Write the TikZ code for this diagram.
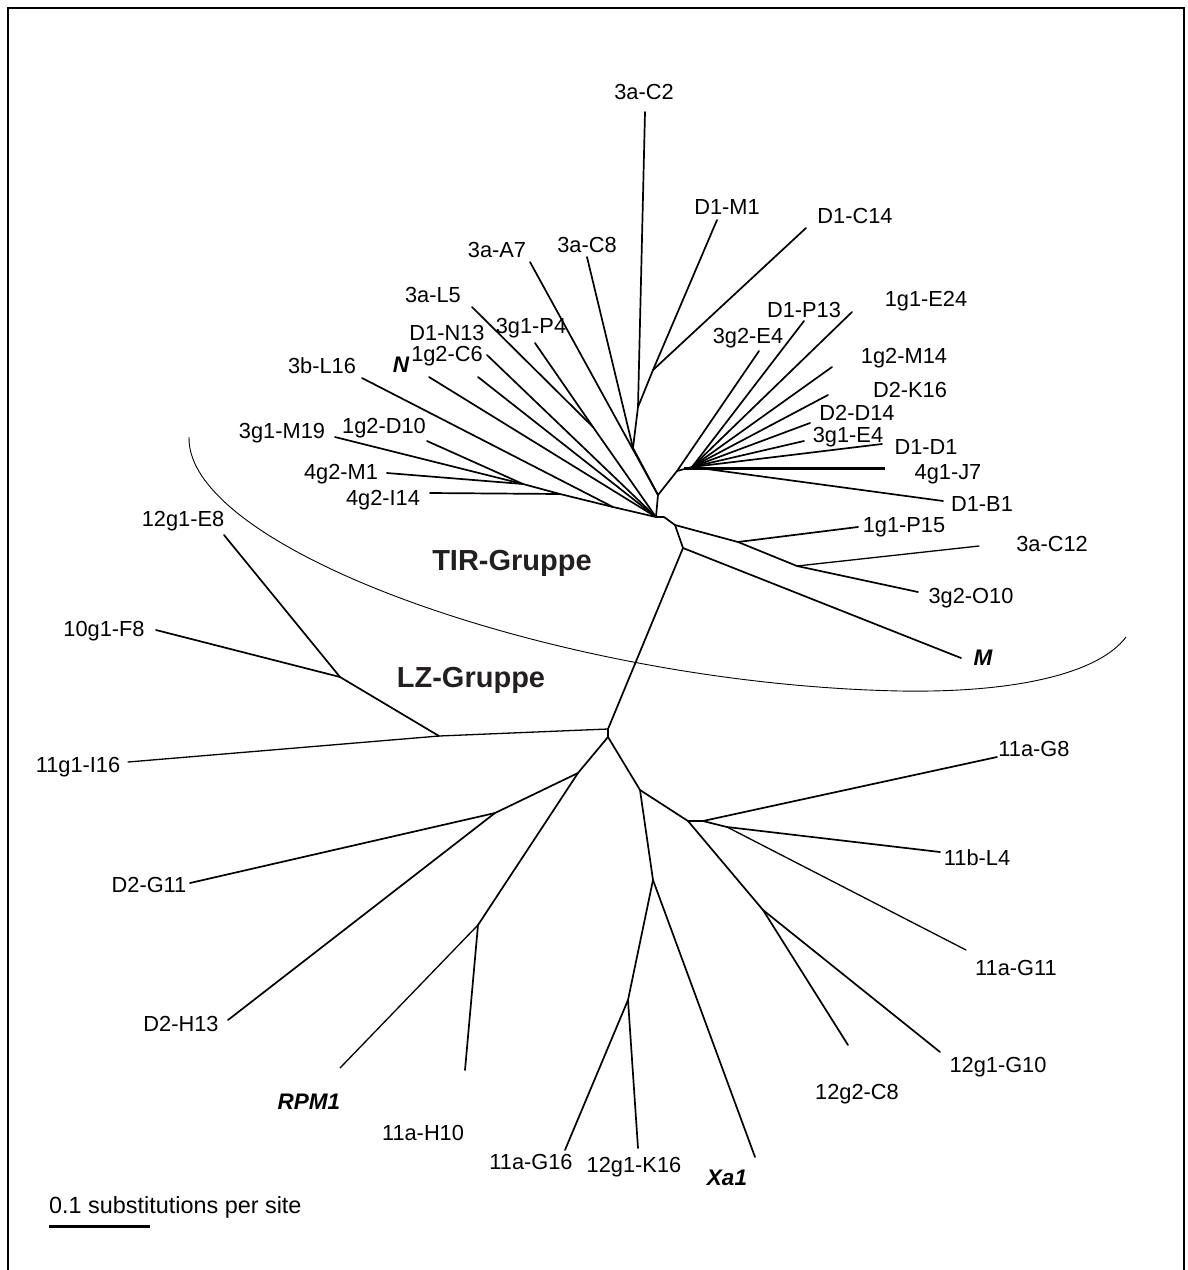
\documentclass[tikz,border=0pt]{standalone}
\usepackage{fontspec}
\setmainfont{Liberation Sans}
\definecolor{grpcol}{HTML}{231F20}
\begin{document}
\begin{tikzpicture}[x=1pt,y=-1pt,
  br/.style={line width=1.7pt, line cap=round},
  thin br/.style={line width=1.3pt, line cap=round},
  lab/.style={font=\fontsize{21.8}{24}\selectfont, inner sep=0pt, anchor=center},
  blab/.style={font=\fontsize{22.5}{24}\selectfont\bfseries\itshape, inner sep=0pt, anchor=center},
  grp/.style={font=\fontsize{29}{32}\selectfont\bfseries, text=grpcol, inner sep=0pt, anchor=center}]
\useasboundingbox (0,0) rectangle (1187,1270);
% frame
\draw[line width=2pt] (8,1275) -- (8,8) -- (1184,8) -- (1184,1275);
% internal nodes
\coordinate (nC2j) at (638,407);
\coordinate (nM1j) at (653,370);
\coordinate (nC8j) at (633,448);
\coordinate (nN1) at (658,495);
\coordinate (nR) at (677,471);
\coordinate (nH) at (692,467);
\coordinate (nC) at (656,517);
\coordinate (nCp) at (664,517);
\coordinate (nP4j) at (593,427);
\coordinate (nLL) at (523,484);
\coordinate (nI14) at (560,494);
\coordinate (nL16) at (613,507);
\coordinate (nC2) at (675,525);
\coordinate (nP15) at (738,542);
\coordinate (nC12) at (797,566);
\coordinate (nMj) at (683,548);
\coordinate (nLZ) at (608,729);
\coordinate (nLZp) at (608,737);
\coordinate (nI16) at (439,736);
\coordinate (nE8) at (340,677);
\coordinate (nBR1) at (640,790);
\coordinate (nBR2) at (688,821);
\coordinate (nBR2p) at (703,821);
\coordinate (nL4) at (727,827);
\coordinate (nG10) at (763,910);
\coordinate (nXa) at (653,880);
\coordinate (nK16) at (628,1000);
\coordinate (nBL1) at (578,773);
\coordinate (nG11) at (495,813);
\coordinate (nH10) at (478,925);
% tips
\coordinate (tC2) at (645,112);
\coordinate (tM1) at (717,220);
\coordinate (tC14) at (806,228);
\coordinate (tC8) at (587,257);
\coordinate (tA7) at (530,262);
\coordinate (tL5) at (472,307);
\coordinate (tP4) at (535,343);
\coordinate (tC6) at (487,355);
\coordinate (tN13) at (478,377);
\coordinate (tN) at (429,377);
\coordinate (tL16) at (362,378);
\coordinate (tM19) at (335,437);
\coordinate (tD10) at (427,441);
\coordinate (tGM1) at (387,473);
\coordinate (tI14) at (430,493);
\coordinate (tE4b) at (759,351);
\coordinate (tP13) at (804,321);
\coordinate (tE24) at (852,312);
\coordinate (tM14) at (832,367);
\coordinate (tK16b) at (828,395);
\coordinate (tD14) at (810,423);
\coordinate (tE4) at (804,441);
\coordinate (tD1) at (882,444);
\coordinate (tJ7a) at (684,468);
\coordinate (tJ7) at (885,468);
\coordinate (tB1) at (943,501);
\coordinate (tP15) at (858,527);
\coordinate (tC12) at (979,546);
\coordinate (tO10) at (918,592);
\coordinate (tM) at (961,658);
\coordinate (tE8) at (224,535);
\coordinate (tF8) at (156,630);
\coordinate (tI16) at (128,762);
\coordinate (tG8) at (997,757);
\coordinate (tL4) at (940,852);
\coordinate (tG11b) at (966,950);
\coordinate (tG10) at (940,1052);
\coordinate (tC8b) at (848,1045);
\coordinate (tXa) at (755,1157);
\coordinate (tK16) at (638,1148);
\coordinate (tG16) at (565,1150);
\coordinate (tH10) at (465,1070);
\coordinate (tRPM) at (340,1068);
\coordinate (tH13) at (228,1020);
\coordinate (tG11) at (190,883);
% branches: TIR
\draw[br] (tC2) -- (nC2j);
\draw[br] (tM1) -- (nM1j);
\draw[br] (tC14) -- (nM1j);
\draw[br] (nM1j) -- (nC2j) -- (nC8j);
\draw[br] (tC8) -- (nC8j) -- (nN1);
\draw[br] (tA7) -- (nN1);
\draw[br] (nN1) -- (nR);
\draw[br] (nN1) -- (nC);
\draw[br] (tE4b) -- (nR);
\draw[br] (nR) -- (nH);
\foreach \t in {tP13,tE24,tM14,tK16b,tD14,tE4,tD1,tB1} \draw[br] (\t) -- (nH);
\draw[line width=3pt] (tJ7a) -- (tJ7);
\draw[br] (tL5) -- (nP4j);
\draw[br] (tP4) -- (nP4j);
\draw[br] (nP4j) -- (nC);
\draw[br] (tC6) -- (nC);
\draw[br] (tN13) -- (nC);
\draw[br] (tN) -- (nC);
\draw[br] (tL16) -- (nL16);
\draw[br] (tM19) -- (nLL);
\draw[br] (tD10) -- (nLL);
\draw[br] (tGM1) -- (nLL);
\draw[br] (tI14) -- (nI14);
\draw[br] (nLL) -- (nI14) -- (nL16) -- (nC);
\draw[line width=2.5pt] (nC) -- (nCp);
\draw[br] (nCp) -- (nC2);
\draw[br] (nC2) -- (nP15) -- (nC12);
\draw[br] (nP15) -- (tP15);
\draw[thin br] (nC12) -- (tC12);
\draw[br] (nC12) -- (tO10);
\draw[br] (nC2) -- (nMj) -- (tM);
\draw[br] (nMj) -- (nLZ);
% LZ
\draw[line width=2.5pt] (nLZ) -- (nLZp);
\draw[thin br] (nLZ) -- (nI16) -- (tI16);
\draw[br] (nI16) -- (nE8) -- (tE8);
\draw[br] (nE8) -- (tF8);
\draw[br] (nLZp) -- (nBR1) -- (nBR2);
\draw[br] (nBR2) -- (nBR2p) -- (tG8);
\draw[br] (nBR2p) -- (nL4) -- (tL4);
\draw[thin br] (nL4) -- (tG11b);
\draw[br] (nBR2) -- (nG10) -- (tG10);
\draw[br] (nG10) -- (tC8b);
\draw[br] (nBR1) -- (nXa) -- (tXa);
\draw[br] (nXa) -- (nK16) -- (tK16);
\draw[br] (nK16) -- (tG16);
\draw[br] (nLZp) -- (nBL1) -- (nG11) -- (tG11);
\draw[br] (nG11) -- (tH13);
\draw[br] (nBL1) -- (nH10) -- (tH10);
\draw[thin br] (nH10) -- (tRPM);
% group curve
\draw[line width=0.9pt] (189,437) .. controls (186,550) and (560,684) .. (900,691) .. controls (1020,693) and (1100,672) .. (1126,637);
% labels
\node[lab] (l1) at (644,92) {3a-C2};
\node[lab] (l2) at (727,207) {D1-M1};
\node[lab] (l3) at (855,216) {D1-C14};
\node[lab] (l4) at (497,250) {3a-A7};
\node[lab] (l5) at (587,245) {3a-C8};
\node[lab] (l6) at (433,295) {3a-L5};
\node[lab] (l7) at (447,333) {D1-N13};
\node[lab] (l8) at (531,328) {3g1-P4};
\node[lab] (l9) at (447,356) {1g2-C6};
\node[blab] (l10) at (401,365) {N};
\node[lab] (l11) at (322,366) {3b-L16};
\node[lab] (l12) at (282,433) {3g1-M19};
\node[lab] (l13) at (384,428) {1g2-D10};
\node[lab] (l14) at (341,474) {4g2-M1};
\node[lab] (l15) at (383,500) {4g2-I14};
\node[lab] (l16) at (183,521) {12g1-E8};
\node[lab] (l17) at (104,631) {10g1-F8};
\node[lab] (l18) at (78,767) {11g1-I16};
\node[lab] (l19) at (748,338) {3g2-E4};
\node[lab] (l20) at (804,310) {D1-P13};
\node[lab] (l21) at (926,301) {1g1-E24};
\node[lab] (l22) at (904,358) {1g2-M14};
\node[lab] (l23) at (910,390) {D2-K16};
\node[lab] (l24) at (857,413) {D2-D14};
\node[lab] (l25) at (848,437) {3g1-E4};
\node[lab] (l26) at (926,447) {D1-D1};
\node[lab] (l27) at (948,474) {4g1-J7};
\node[lab] (l28) at (982,504) {D1-B1};
\node[lab] (l29) at (904,527) {1g1-P15};
\node[lab] (l30) at (1052,544) {3a-C12};
\node[lab] (l31) at (971,598) {3g2-O10};
\node[blab] (l32) at (983,658) {M};
\node[lab] (l33) at (1034,749) {11a-G8};
\node[lab] (l34) at (977,858) {11b-L4};
\node[lab] (l35) at (1016,968) {11a-G11};
\node[lab] (l36) at (998,1067) {12g1-G10};
\node[lab] (l37) at (857,1094) {12g2-C8};
\node[blab] (l38) at (727,1178) {Xa1};
\node[lab] (l39) at (634,1167) {12g1-K16};
\node[lab] (l40) at (531,1162) {11a-G16};
\node[lab] (l41) at (423,1133) {11a-H10};
\node[blab] (l42) at (309,1102) {RPM1};
\node[lab] (l43) at (181,1024) {D2-H13};
\node[lab] (l44) at (149,885) {D2-G11};
\node[grp] (g1) at (512,563) {TIR-Gruppe};
\node[grp] (g2) at (471,680) {LZ-Gruppe};
\node[lab, anchor=west, font=\fontsize{23.4}{26}\selectfont] (sc) at (49,1207) {0.1 substitutions per site};
\coordinate (s1) at (49,1226);
\coordinate (s2) at (150,1226);
\draw[line width=3pt] (s1) -- (s2);
\end{tikzpicture}
\end{document}
